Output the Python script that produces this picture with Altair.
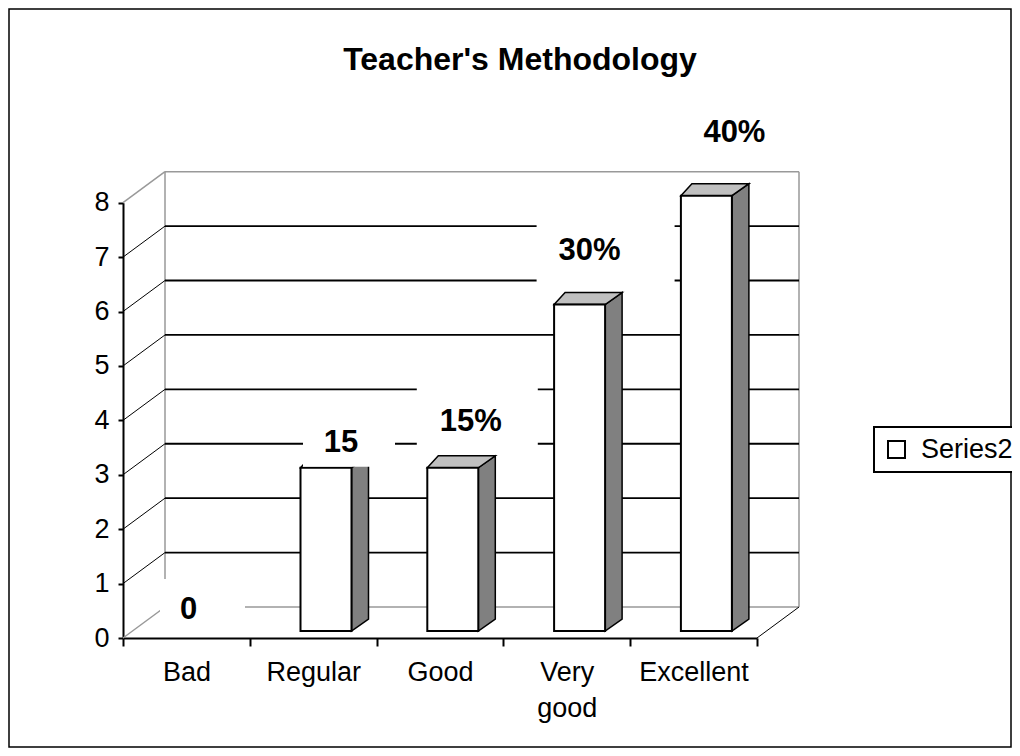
import json
import altair as alt
import pandas as pd

# ---------------- data ----------------
categories = ["Bad", "Regular", "Good", "Very good", "Excellent"]
counts = [0, 3, 3, 6, 8]
bar_labels = ["0", "15", "15%", "30%", "40%"]
series_name = "Series2"
y_ticks = [0, 1, 2, 3, 4, 5, 6, 7, 8]
chart_title = "Teacher's Methodology"

# ---------------- style ----------------
FONT = "Liberation Sans"
TOTAL_W, TOTAL_H = 1002, 738
X_PIX = [114, 748]          # pixel range of the x scale inside the view
Y_PIX = [629, 193.7]        # pixel range of the y scale inside the view
N = len(categories)
YMAX = y_ticks[-1]
SX = (X_PIX[1] - X_PIX[0]) / N
SY = (Y_PIX[0] - Y_PIX[1]) / YMAX

WALL_DX, WALL_DY = 42 / SX, 31 / SY       # depth of the 3-D box
BAR_SHIFT = 12.8 / SX
BAR_HALF = 25.5 / SX
BAR_LIFT = 7 / SY
SIDE_DX, DEPTH_DY = 17 / SX, 12 / SY
TOP_LEFT_DX = 11 / SX
# label nudges (px, visual centre relative to bar front-top centre)
LABEL_NUDGE = [(-10.7, -23), (15, -27), (18, -48), (10, -55), (28, -65)]
# label background boxes (dx from text centre, width, height) in px
LABEL_BOX = [(14, 85, 58), (8, 92, 52), (6.5, 121, 70), (16, 138, 72), (10, 120, 60)]

GRAY = "#999999"

# ---------------- tables built from the data ----------------
seg_rows = []
for k in y_ticks[1:-1]:
    seg_rows.append(dict(kind="grid", x=WALL_DX, x2=N + WALL_DX, y=k + WALL_DY, y2=k + WALL_DY))
    seg_rows.append(dict(kind="diag", x=0, x2=WALL_DX, y=k, y2=k + WALL_DY))
seg_rows.append(dict(kind="diag", x=N, x2=N + WALL_DX, y=0, y2=WALL_DY))
seg_rows += [
    dict(kind="frame", x=WALL_DX, x2=N + WALL_DX, y=YMAX + WALL_DY, y2=YMAX + WALL_DY),
    dict(kind="frame", x=WALL_DX, x2=WALL_DX, y=WALL_DY, y2=YMAX + WALL_DY),
    dict(kind="frame", x=N + WALL_DX, x2=N + WALL_DX, y=WALL_DY, y2=YMAX + WALL_DY),
    dict(kind="frame", x=WALL_DX, x2=N + WALL_DX, y=WALL_DY, y2=WALL_DY),
    dict(kind="frame", x=0, x2=WALL_DX, y=0, y2=WALL_DY),
    dict(kind="frame", x=0, x2=WALL_DX, y=YMAX, y2=YMAX + WALL_DY),
]
segments = pd.DataFrame(seg_rows)

front_rows, side_rows, top_rows, text_rows, box_rows = [], [], [], [], []
for i, (cat, v, lab) in enumerate(zip(categories, counts, bar_labels)):
    cx = i + 0.5 + BAR_SHIFT
    L, R = cx - BAR_HALF, cx + BAR_HALF
    b = BAR_LIFT
    t = b + v
    front_rows.append(dict(cat=cat, series=series_name, x=L, x2=R, y=b, y2=t))
    side_rows.append(dict(cat=cat, x=R, y=t, y2=b))
    side_rows.append(dict(cat=cat, x=R + SIDE_DX, y=t + DEPTH_DY, y2=b + DEPTH_DY))
    top_rows.append(dict(cat=cat, y=t, x=L, x2=R))
    top_rows.append(dict(cat=cat, y=t + DEPTH_DY, x=L + TOP_LEFT_DX, x2=R + SIDE_DX))
    ndx, ndy = LABEL_NUDGE[i]
    tx = cx + ndx / SX
    ty = t - ndy / SY
    text_rows.append(dict(cat=cat, label=lab, x=tx, y=ty - 1.8 / SY))
    bdx, bw, bh = LABEL_BOX[i]
    bxc = tx + bdx / SX
    box_rows.append(dict(cat=cat, x=bxc - bw / 2 / SX, x2=bxc + bw / 2 / SX,
                         y=ty - bh / 2 / SY, y2=ty + bh / 2 / SY))

front = pd.DataFrame(front_rows)
side = pd.DataFrame(side_rows)
top = pd.DataFrame(top_rows)
texts = pd.DataFrame(text_rows)
boxes = pd.DataFrame(box_rows)

# ---------------- scales / axes ----------------
XSCALE = alt.Scale(domain=[0, N], range=X_PIX, nice=False, zero=False)
YSCALE = alt.Scale(domain=[0, YMAX], range=Y_PIX, nice=False, zero=False)

label_expr = f"datum.value < {N} ? split({json.dumps(categories)}[datum.value], ' ') : ''"
XAXIS = alt.Axis(
    values=list(range(N + 1)), labelExpr=label_expr, labelOffset=SX / 2,
    orient="bottom", offset=-(TOTAL_H - Y_PIX[0]), grid=False, title=None,
    domainColor="black", domainWidth=2, tickColor="black", tickWidth=2, tickSize=8,
    labelFont=FONT, labelFontSize=27, labelColor="black", labelPadding=13,
    labelBaseline="top", labelLineHeight=36, labelOverlap=False, labelFlush=False,
)
YAXIS = alt.Axis(
    values=y_ticks, format="d", orient="left", offset=-X_PIX[0], grid=False, title=None,
    domainColor="black", domainWidth=2, tickColor="black", tickWidth=2, tickSize=5,
    labelFont=FONT, labelFontSize=27, labelColor="black", labelPadding=9,
    labelOverlap=False, labelFlush=False,
)


def X(f="x"):
    return alt.X(f, type="quantitative", scale=XSCALE, axis=XAXIS, stack=None)


def Y(f="y"):
    return alt.Y(f, type="quantitative", scale=YSCALE, axis=YAXIS, stack=None)


frame_lines = alt.Chart(segments).transform_filter("datum.kind == 'frame'").mark_rule(
    color=GRAY, strokeWidth=1.5).encode(x=X(), x2="x2", y=Y(), y2="y2")
grid_lines = alt.Chart(segments).transform_filter("datum.kind == 'grid'").mark_rule(
    color="black", strokeWidth=1.8).encode(x=X(), x2="x2", y=Y(), y2="y2")
diag_lines = alt.Chart(segments).transform_filter("datum.kind == 'diag'").mark_rule(
    color="black", strokeWidth=1).encode(x=X(), x2="x2", y=Y(), y2="y2")

side_faces = alt.Chart(side).mark_area(
    orient="vertical", fill="#808080", stroke="black", strokeWidth=1.5, strokeJoin="miter"
).encode(x=X(), y=Y(), y2="y2", detail="cat:N")
top_faces = alt.Chart(top).mark_area(
    orient="horizontal", fill="#c0c0c0", stroke="black", strokeWidth=1.5, strokeJoin="miter"
).encode(y=Y(), x=X(), x2="x2", detail="cat:N")
front_faces = alt.Chart(front).mark_rect(stroke="black", strokeWidth=2).encode(
    x=X(), x2="x2", y=Y(), y2="y2",
    fill=alt.Fill("series:N", scale=alt.Scale(domain=[series_name], range=["white"]),
                  legend=alt.Legend(
                      orient="none", legendX=865, legendY=418, title=None,
                      symbolType="square", symbolSize=289, symbolFillColor="white",
                      symbolStrokeColor="black", symbolStrokeWidth=2,
                      labelFont=FONT, labelFontSize=27, labelColor="black",
                      labelOffset=11, padding=9, strokeColor="black", fillColor="white")),
)
label_boxes = alt.Chart(boxes).mark_rect(fill="white", strokeWidth=0).encode(
    x=X(), x2="x2", y=Y(), y2="y2")
label_texts = alt.Chart(texts).mark_text(
    font=FONT, fontSize=31, fontWeight="bold", color="black", align="center", baseline="middle"
).encode(x=X(), y=Y(), text="label:N")

chart = alt.layer(
    frame_lines, grid_lines, diag_lines, side_faces, top_faces, front_faces, label_boxes, label_texts
).properties(
    width=TOTAL_W, height=TOTAL_H,
    autosize=alt.AutoSizeParams(type="none"),
    padding={"left": 1, "right": 1, "top": 1, "bottom": 1},
    title=alt.TitleParams(text=chart_title, font=FONT, fontSize=32, fontWeight="bold",
                          color="black", anchor="middle", frame="group", dx=10,
                          offset=-93, baseline="alphabetic"),
).configure_view(stroke="black", strokeWidth=1.5).configure_legend(strokeWidth=2)

chart.save("out.html", embed_options={"renderer": "svg", "actions": False})
